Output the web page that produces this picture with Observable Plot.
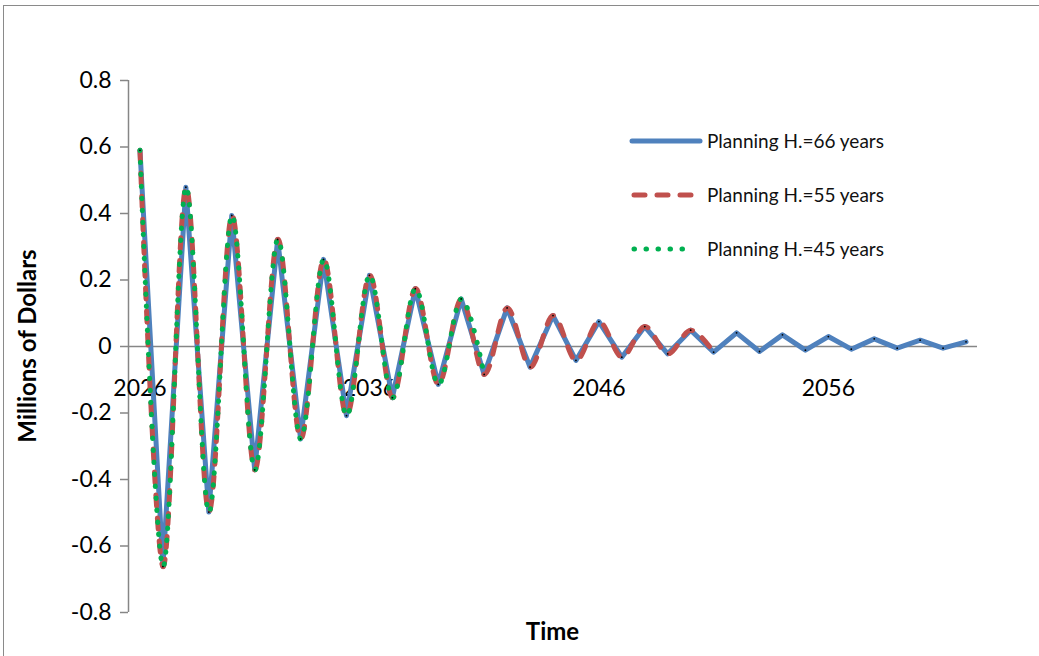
<!DOCTYPE html>
<html>
<head>
<meta charset="utf-8">
<script src="https://cdn.jsdelivr.net/npm/d3@7"></script>
<script src="https://cdn.jsdelivr.net/npm/@observablehq/plot@0.6"></script>
<style>
  html, body { margin: 0; padding: 0; background: #fff; }
  #wrap { position: relative; width: 1039px; height: 656px; overflow: hidden; font-family: Lato, "Open Sans", sans-serif; }
  #frame { position: absolute; left: 3px; top: 5px; width: 1100px; height: 700px; border-left: 1.5px solid #8a8a8a; border-top: 1.5px solid #8a8a8a; box-sizing: border-box; }
  #chart { position: absolute; left: 0; top: 0; }
  #legend { position: absolute; left: 0; top: 0; }
</style>
</head>
<body>
<div id="wrap">
  <div id="frame"></div>
  <div id="chart"></div>
  <div id="legend"></div>
</div>
<script>
// Years (category axis) and series values (millions of dollars)
const years = d3.range(2026, 2063);
const values66 = [
  0.590, -0.662, 0.479, -0.498, 0.394, -0.371, 0.322, -0.278, 0.262, -0.208,
  0.214, -0.154, 0.174, -0.114, 0.143, -0.084, 0.116, -0.062, 0.093, -0.042,
  0.075, -0.032, 0.060, -0.022, 0.049, -0.017, 0.041, -0.015, 0.035, -0.011,
  0.030, -0.008, 0.023, -0.005, 0.019, -0.005, 0.014
];
const values55 = [
  0.590, -0.662, 0.479, -0.498, 0.394, -0.371, 0.322, -0.278, 0.262, -0.208,
  0.214, -0.154, 0.174, -0.114, 0.143, -0.084, 0.116, -0.062, 0.093, -0.042,
  0.075, -0.032, 0.060, -0.022, 0.049, -0.017
];
const values45 = [
  0.590, -0.662, 0.479, -0.498, 0.394, -0.371, 0.322, -0.278, 0.262, -0.208,
  0.214, -0.154, 0.174, -0.114, 0.143, -0.084
];
const seriesNames = ["Planning H.=66 years", "Planning H.=55 years", "Planning H.=45 years"];
const seriesColors = ["#4F81BD", "#C0504D", "#00B050"];
const yTicks = [-0.8, -0.6, -0.4, -0.2, 0, 0.2, 0.4, 0.6, 0.8];
const xTickLabels = [2026, 2036, 2046, 2056];

const toRows = (vals) => vals.map((v, i) => ({year: years[i], value: v}));
const rows66 = toRows(values66);
const rows55 = toRows(values55);
const rows45 = toRows(values45);

const axisGray = "#868686";
const font = "Lato, 'Open Sans', sans-serif";

const plot = Plot.plot({
  width: 1039,
  height: 656,
  marginLeft: 128,
  marginRight: 62,
  marginTop: 80,
  marginBottom: 44,
  style: {fontFamily: font, background: "transparent", overflow: "visible"},
  x: {domain: [2025.5, 2062.5], axis: null},
  y: {domain: [-0.8, 0.8], axis: null},
  marks: [
    Plot.ruleY([0], {stroke: axisGray, strokeWidth: 1.5}),
    Plot.ruleX([2025.5], {stroke: axisGray, strokeWidth: 1.5}),
    Plot.axisY({
      ticks: yTicks, tickSize: 8, tickPadding: 9,
      tickFormat: d => d === 0 ? "0" : d.toFixed(1),
      stroke: axisGray, fill: "black", strokeWidth: 1.5,
      fontSize: 23, label: null
    }),
    Plot.text(xTickLabels, {x: d => d, y: () => 0, text: d => String(d), dy: 42, fontSize: 23, fill: "black"}),
    Plot.line(rows66, {x: "year", y: "value", stroke: seriesColors[0], strokeWidth: 5, strokeLinejoin: "round", strokeLinecap: "round"}),
    Plot.line(rows55, {x: "year", y: "value", stroke: seriesColors[1], strokeWidth: 5, curve: "cardinal", strokeDasharray: "11,12", strokeLinecap: "round"}),
    Plot.line(rows45, {x: "year", y: "value", stroke: seriesColors[2], strokeWidth: 5, curve: "cardinal", strokeDasharray: "0.5,11.5", strokeLinecap: "round"}),
    Plot.dot(rows66, {x: "year", y: "value", r: 0.9, fill: "black", stroke: null})
  ]
});
document.getElementById("chart").appendChild(plot);

// Axis titles (centered on the frame)
const svg = d3.select(plot);
svg.append("text")
  .attr("x", (128 + 977) / 2).attr("y", 640)
  .attr("text-anchor", "middle")
  .attr("font-size", 24).attr("font-weight", "bold").attr("fill", "black")
  .attr("font-family", font)
  .text("Time");
svg.append("text")
  .attr("transform", `translate(36,${(80 + 612) / 2}) rotate(-90)`)
  .attr("text-anchor", "middle")
  .attr("font-size", 24).attr("font-weight", "bold").attr("fill", "black")
  .attr("font-family", font)
  .text("Millions of Dollars");

// Legend
const legendSvg = d3.select("#legend").append("svg").attr("width", 1039).attr("height", 656);
const dashes = [null, "11,12", "0.5,11.5"];
const rowsY = [141, 195, 249];
seriesNames.forEach((name, i) => {
  const g = legendSvg.append("g");
  g.append("line")
    .attr("x1", i === 0 ? 632 : 634).attr("x2", i === 0 ? 700 : 694)
    .attr("y1", rowsY[i]).attr("y2", rowsY[i])
    .attr("stroke", seriesColors[i]).attr("stroke-width", 5)
    .attr("stroke-linecap", "round")
    .attr("stroke-dasharray", dashes[i]);
  g.append("text")
    .attr("x", 707).attr("y", rowsY[i]).attr("dy", "0.36em")
    .attr("font-size", 19).attr("fill", "#111")
    .attr("font-family", font)
    .text(name);
});
</script>
</body>
</html>
